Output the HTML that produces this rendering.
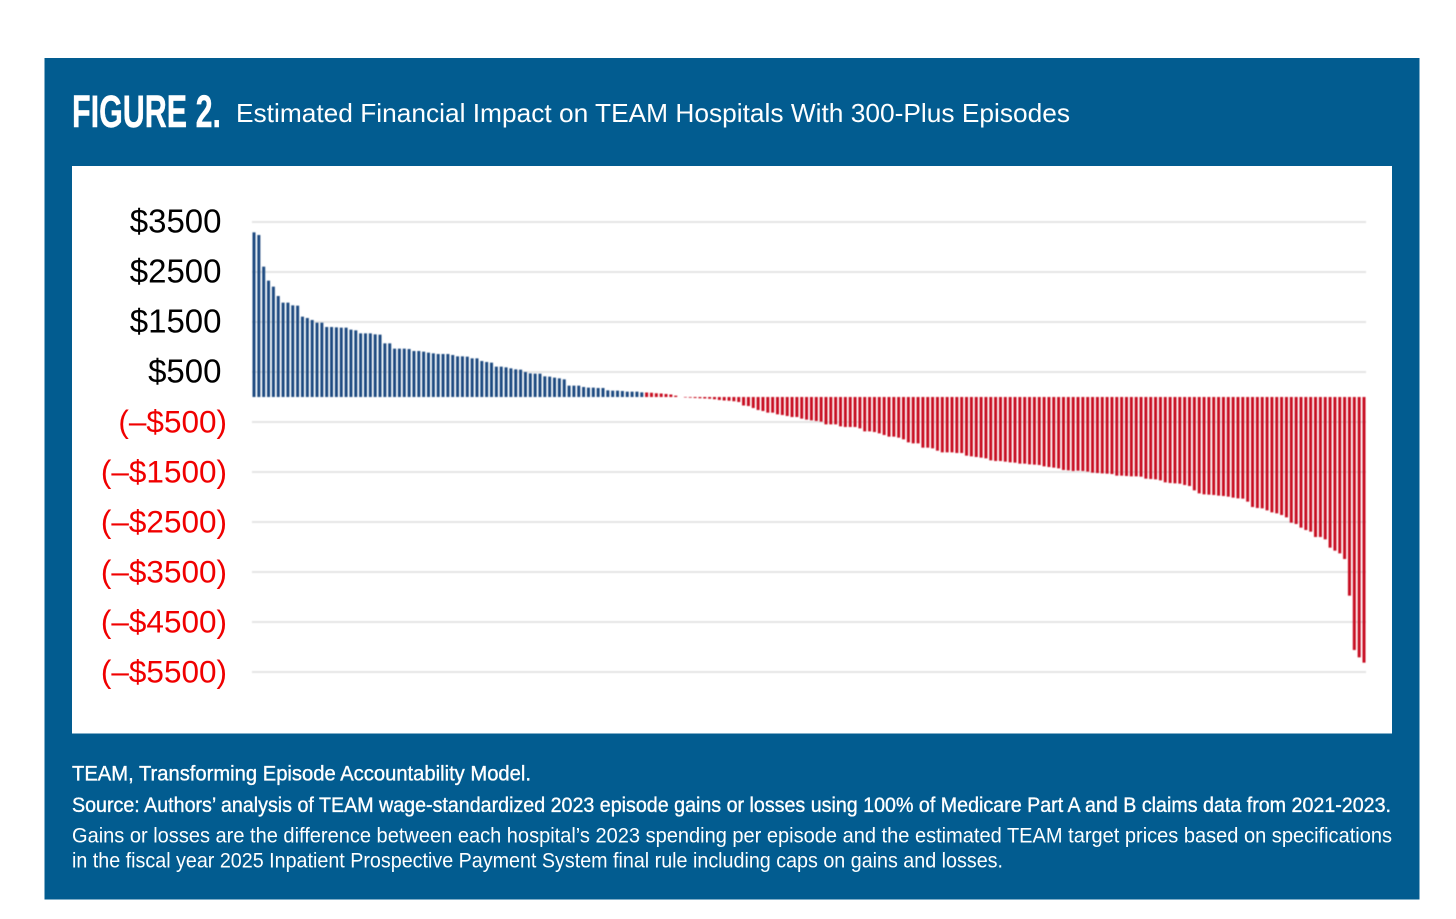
<!DOCTYPE html>
<html lang="en">
<head>
<meta charset="utf-8">
<title>Figure 2. Estimated Financial Impact on TEAM Hospitals With 300-Plus Episodes</title>
<style>
html,body{margin:0;padding:0;background:#fff;width:1456px;height:919px;overflow:hidden}
svg{display:block}
text{font-family:"Liberation Sans",sans-serif}
</style>
</head>
<body>
<svg id="figure" xmlns="http://www.w3.org/2000/svg" width="1456" height="919" viewBox="0 0 1456 919">
  <defs><filter id="soft" x="-2%" y="-2%" width="104%" height="104%"><feGaussianBlur stdDeviation="0.45"/></filter></defs>
  <rect x="44.5" y="58" width="1375" height="841.5" fill="#025c90"/>
  <text x="72" y="127" font-size="45" font-weight="700" fill="#fff" stroke="#fff" stroke-width="0.4" textLength="149" lengthAdjust="spacingAndGlyphs">FIGURE 2.</text>
  <text x="236" y="122" font-size="26" fill="#fff" textLength="834" lengthAdjust="spacingAndGlyphs">Estimated Financial Impact on TEAM Hospitals With 300-Plus Episodes</text>
  <rect x="72" y="166" width="1320" height="567.5" fill="#fff"/>
  <g id="grid" filter="url(#soft)"></g>
  <g id="bars" filter="url(#soft)"></g>
  <g id="ticks"></g>
  <text x="72" y="780.5" font-size="21" fill="#fff" stroke="#fff" stroke-width="0.35" textLength="459" lengthAdjust="spacingAndGlyphs">TEAM, Transforming Episode Accountability Model.</text>
  <text x="72" y="812" font-size="21" fill="#fff" stroke="#fff" stroke-width="0.35" textLength="1319" lengthAdjust="spacingAndGlyphs">Source: Authors’ analysis of TEAM wage-standardized 2023 episode gains or losses using 100% of Medicare Part A and B claims data from 2021-2023.</text>
  <text x="72" y="842.5" font-size="21" fill="#fff" textLength="1320" lengthAdjust="spacingAndGlyphs">Gains or losses are the difference between each hospital’s 2023 spending per episode and the estimated TEAM target prices based on specifications</text>
  <text x="72" y="867.5" font-size="21" fill="#fff" textLength="931" lengthAdjust="spacingAndGlyphs">in the fiscal year 2025 Inpatient Prospective Payment System final rule including caps on gains and losses.</text>
</svg>
<script>
const tickValues = [3500, 2500, 1500, 500, -500, -1500, -2500, -3500, -4500, -5500];
const tickLabels = ["$3500", "$2500", "$1500", "$500", "(–$500)", "(–$1500)", "(–$2500)", "(–$3500)", "(–$4500)", "(–$5500)"];
const blueValues = [
  3293, 3240, 2607, 2327, 2207, 2020, 1887, 1887, 1833, 1827,
  1607, 1580, 1540, 1487, 1487, 1400, 1400, 1393, 1387, 1387,
  1347, 1333, 1273, 1273, 1273, 1253, 1247, 1073, 1073, 967,
  967, 967, 960, 920, 920, 907, 887, 873, 860, 860,
  860, 840, 813, 813, 807, 773, 773, 720, 700, 687,
  607, 607, 593, 573, 553, 547, 500, 473, 467, 467,
  413, 407, 387, 373, 353, 227, 227, 227, 200, 187,
  187, 180, 180, 133, 127, 127, 120, 107, 107, 107,
  93
];
const redValues = [
  90, 85, 75, 70, 60, 50, 27, 0,
  -10, -15, -20, -25, -30, -35, -45, -60, -70, -75, -85, -100, -170, -180, -220, -260,
  -280, -313, -313, -347, -360, -380, -400, -400, -433, -453, -467, -480, -493,
  -547, -547, -547, -587, -600, -600, -600, -627, -687, -687, -700, -727, -760,
  -793, -793, -813, -847, -907, -927, -927, -1013, -1013, -1027, -1073, -1107, -1107, -1107,
  -1120, -1120, -1173, -1187, -1200, -1213, -1227, -1267, -1280, -1280, -1293, -1307, -1313,
  -1333, -1333, -1347, -1353, -1360, -1387, -1400, -1413, -1427, -1460, -1467, -1480,
  -1473, -1480, -1493, -1513, -1520, -1527, -1533, -1540, -1573, -1573, -1580, -1587, -1587, -1593,
  -1633, -1640, -1647, -1667, -1707, -1720, -1727, -1733, -1760, -1780, -1867, -1927, -1947, -1953,
  -1960, -1973, -1980, -1993, -2013, -2027, -2033, -2093, -2200, -2220, -2227, -2267, -2307, -2327,
  -2360, -2407, -2513, -2540, -2613, -2660, -2693, -2800, -2800, -2847, -3013, -3073, -3127, -3240,
  -3973, -5060, -5207, -5313
];

const NS = "http://www.w3.org/2000/svg";
const yOf = v => 397 - v * 0.05;
const total = blueValues.length + redValues.length;
const xOf = i => 254 + i * (1110 / (total - 1));

const gridG = document.getElementById("grid");
const tickG = document.getElementById("ticks");
tickValues.forEach((v, i) => {
  const line = document.createElementNS(NS, "line");
  
  
  line.setAttribute("x1", 252);
  line.setAttribute("x2", 1366);
  line.setAttribute("y1", yOf(v));
  line.setAttribute("y2", yOf(v));
  line.setAttribute("stroke", "#e4e4e4");
  line.setAttribute("stroke-width", 2);
  gridG.appendChild(line);

  const t = document.createElementNS(NS, "text");
  
  
  t.setAttribute("x", v > 0 ? 221.5 : 227);
  t.setAttribute("y", yOf(v) + 10.5);
  t.setAttribute("text-anchor", "end");
  t.setAttribute("font-size", v > 0 ? "33" : "31.5");
  t.setAttribute("fill", v > 0 ? "#000000" : "#f00000");
  t.textContent = tickLabels[i];
  tickG.appendChild(t);
});

const barG = document.getElementById("bars");
function drawBar(value, index, color) {
  const r = document.createElementNS(NS, "rect");
  
  
  const y0 = yOf(0), y1 = yOf(value);
  r.setAttribute("x", xOf(index) - 1.5);
  r.setAttribute("width", 3);
  r.setAttribute("y", Math.min(y0, y1));
  r.setAttribute("height", Math.abs(y1 - y0));
  r.setAttribute("fill", color);
  barG.appendChild(r);
}
blueValues.forEach((v, i) => drawBar(v, i, "#1f4a80"));
redValues.forEach((v, i) => drawBar(v, blueValues.length + i, "#c80f20"));
</script>
</body>
</html>
